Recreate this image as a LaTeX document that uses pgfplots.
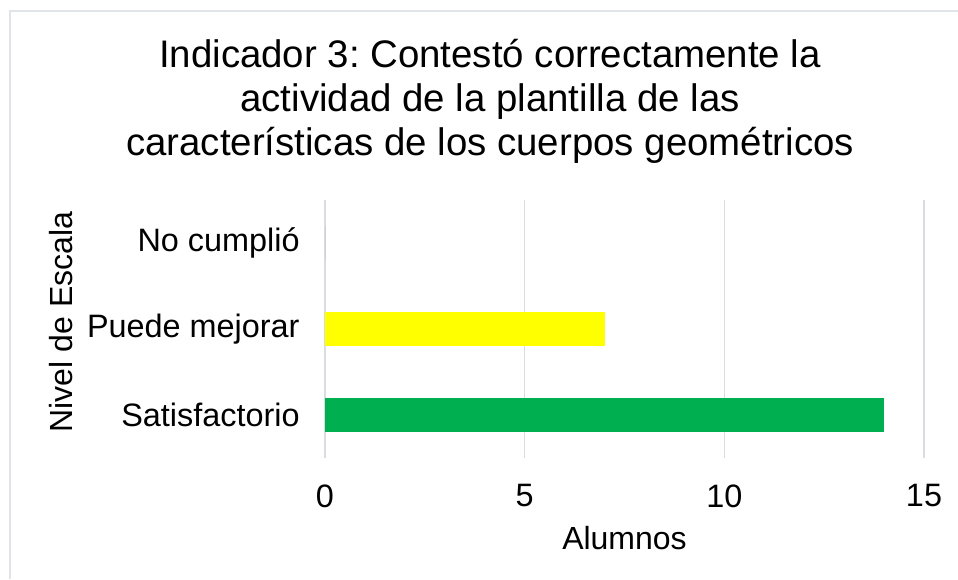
\documentclass[border=0pt]{standalone}
\usepackage{pgfplots}
\pgfplotsset{compat=1.18}
\usepackage{fontspec}
\setmainfont{Liberation Sans}
\frenchspacing
\definecolor{barGreen}{HTML}{00B050}
\definecolor{barYellow}{HTML}{FFFF00}
\definecolor{gridc}{HTML}{D9DDE3}
\definecolor{borderc}{HTML}{E1E4E8}
\begin{document}
\begin{tikzpicture}
\useasboundingbox (0,0) rectangle (479pt,289.5pt);
\fill[white] (0,0) rectangle (479pt,289.5pt);
\draw[borderc, line width=0.75pt] (5pt,0) -- (5pt,284pt) -- (479pt,284pt);
\begin{axis}[
  at={(162.5pt,60.5pt)}, anchor=south west,
  scale only axis,
  width=299.5pt, height=129pt,
  xmin=0, xmax=15, ymin=-0.5, ymax=2.5,
  xtick={0,5,10,15},
  ytick={0,1,2},
  yticklabels={Satisfactorio, Puede mejorar, No cumplió},
  /pgf/number format/assume math mode=true,
  tick label style={font=\fontsize{16.2}{19}\selectfont},
  xticklabel style={inner sep=0pt, anchor=north, yshift=-13pt},
  yticklabel style={inner sep=0pt, anchor=east, xshift=-12.5pt},
  xmajorgrids,
  grid style={gridc, line width=0.75pt},
  axis line style={draw=none},
  major tick length=0pt,
  tick style={draw=none},
  xlabel={Alumnos},
  ylabel={Nivel de Escala},
  label style={font=\fontsize{16}{19}\selectfont},
  xlabel style={at={(axis description cs:0.5,-0.31)}, anchor=center, inner sep=0pt},
  ylabel style={at={(axis description cs:-0.4407,0.527)}, anchor=center, inner sep=0pt, rotate=0},
  title={Indicador 3: Contestó correctamente la\\actividad de la plantilla de las\\características de los cuerpos geométricos},
  title style={at={(axis description cs:0.2755,1.334)}, anchor=center, align=center, inner sep=0pt, font=\fontsize{19.2}{22}\selectfont},
  clip=false,
]
\addplot[xbar, bar shift=0pt, bar width=0.4, fill=barGreen, draw=none] coordinates {(14,0)};
\addplot[xbar, bar shift=0pt, bar width=0.4, fill=barYellow, draw=none] coordinates {(7,1)};
\addplot[xbar, bar shift=0pt, bar width=0.4, fill=gray, draw=none] coordinates {(0,2)};
\end{axis}
\end{tikzpicture}
\end{document}
